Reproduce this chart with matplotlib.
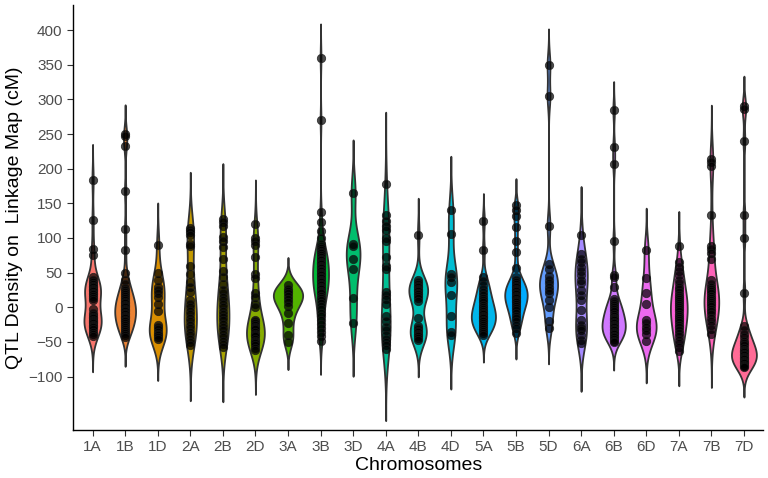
# QTL density violin plot per chromosome

import numpy as np
import matplotlib
matplotlib.use("Agg")
import matplotlib.pyplot as plt

plt.rcParams['font.family'] = ['Liberation Sans', 'DejaVu Sans']

chromosomes = ["1A", "1B", "1D", "2A", "2B", "2D", "3A", "3B", "3D", "4A", "4B",
               "4D", "5A", "5B", "5D", "6A", "6B", "6D", "7A", "7B", "7D"]

qtl_1A = [184, 126, 84, 75, 44, 40, 37, 34, 31, 29, 27, 25, 23, 21, 19, 17, 14, 11,
          -3, -8, -11, -14, -16, -18, -20, -21, -23, -25, -27, -29, -32, -35, -38, -42]
qtl_1B = [250, 247, 232, 168, 113, 82, 49, 40, 34, 28, 25, 22, 19, 16, 13, 10, 8, 6, 4, 2, 0,
          -2, -4, -6, -8, -10, -12, -14, -16, -18, -20, -22, -25, -28, -31, -34, -37, -40, -43]
qtl_1D = [90, 50, 40, 30, 25, 20, 15, 5, -5, -25, -28, -32, -35, -38, -40, -43, -45]
qtl_2A = [115, 112, 108, 105, 92, 88, 60, 48, 36, 29, 22, 10, 5, 0, -5, -10, -15, -20, -25,
          -30, -35, -40, -45, -50, -55]
qtl_2B = [128, 123, 118, 101, 96, 87, 70, 53, 44, 34, 25, 20, 15, 10, 5, 0, -5, -9, -14, -19,
          -24, -28, -33, -38, -43, -48, -53, -57]
qtl_2D = [120, 100, 96, 90, 72, 48, 43, 20, 15, 5, 0, -18, -20, -22, -25, -28, -30, -32, -35,
          -38, -40, -42, -45, -48, -50, -52, -55, -58, -62]
qtl_3A = [32, 27, 24, 20, 17, 12, 8, 2, -8, -22, -40, -50]
qtl_3B = [360, 270, 138, 123, 110, 100, 92, 88, 85, 82, 80, 78, 75, 72, 70, 68, 66, 64, 62, 60,
          58, 56, 54, 52, 50, 48, 46, 44, 42, 40, 38, 36, 34, 32, 30, 28, 26, 24, 22, 20, 17,
          14, 10, 6, 2, -3, -8, -13, -18, -24, -30, -36, -42, -48]
qtl_3D = [165, 92, 88, 70, 55, 13, -23]
qtl_4A = [178, 133, 125, 118, 112, 100, 95, 73, 60, 55, 22, 18, 12, 5, -12, -20, -28, -33, -40,
          -45, -50, -55, -60]
qtl_4B = [104, 39, 36, 33, 31, 29, 27, 25, 23, 21, 19, 16, 13, 9, -16, -27, -30, -32, -34,
          -36, -38, -40, -42, -44, -47]
qtl_4D = [140, 106, 48, 44, 37, 18, -12, -35, -40]
qtl_5A = [125, 82, 44, 38, 32, 27, 22, 18, 14, 10, 7, 4, 1, -2, -5, -8, -10, -12, -14, -16, -18,
          -20, -22, -25, -28, -31, -34, -37, -40]
qtl_5B = [148, 140, 132, 116, 96, 80, 56, 44, 40, 37, 34, 31, 29, 27, 25, 23, 21, 19, 17, 15,
          13, 11, 9, 7, 5, 2, -1, -4, -8, -12, -16, -20, -25, -30, -37]
qtl_5D = [350, 305, 118, 63, 55, 45, 40, 35, 30, 25, 20, 10, 0, -20, -30]
qtl_6A = [105, 77, 70, 65, 58, 52, 46, 40, 35, 25, 18, 10, -4, -18, -25, -30, -33, -40, -47, -52]
qtl_6B = [285, 231, 207, 96, 47, 44, 29, 12, 9, 6, 3, 0, -3, -6, -9, -12, -15, -17, -19, -21,
          -23, -25, -27, -29, -31, -33, -35, -37, -39, -41, -43, -45, -48, -50]
qtl_6D = [82, 42, 20, 5, -18, -23, -28, -33, -38, -48]
qtl_7A = [88, 65, 58, 52, 46, 40, 35, 30, 26, 22, 18, 15, 12, 9, 6, 3, 0, -3, -6, -9, -12, -15,
          -18, -21, -25, -29, -33, -37, -42, -47, -52, -57, -63]
qtl_7B = [214, 209, 204, 133, 89, 84, 78, 70, 40, 34, 30, 26, 23, 20, 17, 14, 11, 8, 5, 2, -2,
          -6, -10, -15, -20, -26, -32, -38]
qtl_7D = [290, 286, 240, 133, 100, 21, -27, -33, -38, -43, -48, -52, -55, -58, -61, -63, -65,
          -67, -69, -71, -73, -75, -77, -79, -81, -83, -85, -86]

groups = [qtl_1A, qtl_1B, qtl_1D, qtl_2A, qtl_2B, qtl_2D, qtl_3A, qtl_3B, qtl_3D,
          qtl_4A, qtl_4B, qtl_4D, qtl_5A, qtl_5B, qtl_5D, qtl_6A, qtl_6B, qtl_6D,
          qtl_7A, qtl_7B, qtl_7D]

yticks = [-100, -50, 0, 50, 100, 150, 200, 250, 300, 350, 400]


def hcl_hex(h, c=100, l=65):
    # polar LUV -> sRGB, same as R's hcl()
    xn, yn, zn = 95.047, 100.0, 108.883
    u = c * np.cos(np.radians(h))
    v = c * np.sin(np.radians(h))
    y = yn * ((l + 16) / 116) ** 3
    d = xn + 15 * yn + 3 * zn
    un, vn = 4 * xn / d, 9 * yn / d
    up = u / (13 * l) + un
    vp = v / (13 * l) + vn
    x = 9 * y * up / (4 * vp)
    z = -x / 3 - 5 * y + 3 * y / vp
    x, y, z = x / 100, y / 100, z / 100
    rgb = [3.240479 * x - 1.537150 * y - 0.498535 * z,
           -0.969256 * x + 1.875992 * y + 0.041556 * z,
           0.055648 * x - 0.204043 * y + 1.057311 * z]
    out = []
    for ch in rgb:
        ch = 12.92 * ch if ch <= 0.0031308 else 1.055 * ch ** (1 / 2.4) - 0.055
        out.append(min(max(ch, 0), 1))
    return tuple(out)


def bw_nrd0(x):
    x = np.asarray(x, float)
    sd = x.std(ddof=1)
    q1, q3 = np.percentile(x, [25, 75])
    lo = min(sd, (q3 - q1) / 1.34)
    if lo == 0:
        lo = sd
    return 0.9 * lo * len(x) ** -0.2


def density(x):
    # gaussian kde, untrimmed: runs 3 bandwidths past the data
    x = np.asarray(x, float)
    bw = bw_nrd0(x)
    grid = np.linspace(x.min() - 3 * bw, x.max() + 3 * bw, 512)
    dens = np.exp(-0.5 * ((grid[:, None] - x[None, :]) / bw) ** 2).sum(axis=1)
    dens /= len(x) * bw * np.sqrt(2 * np.pi)
    return grid, dens


n = len(chromosomes)
hues = np.linspace(15, 375, n + 1)[:n]
colors = [hcl_hex(h) for h in hues]

fig = plt.figure(figsize=(7.68, 4.78), dpi=100)
ax = fig.add_axes([0.0951, 0.1004, 0.899, 0.889])

dens_all = [density(g) for g in groups]
dmax = max(d.max() for _, d in dens_all)

for i, (grid, dens) in enumerate(dens_all):
    pos = i + 1
    w = dens / dmax * 0.45
    ax.fill_betweenx(grid, pos - w, pos + w, facecolor=colors[i],
                     edgecolor='#333333', linewidth=1.3, zorder=2)

for i, g in enumerate(groups):
    ax.scatter(np.full(len(g), i + 1), g, s=36, facecolor=(0, 0, 0, 0.7),
               edgecolors=(0.1, 0.1, 0.1, 0.8), linewidths=0.6, zorder=3)

ax.set_xlim(0.4, n + 0.6)
ax.set_ylim(-177, 436)
ax.set_xticks(range(1, n + 1))
ax.set_xticklabels(chromosomes)
ax.set_yticks(yticks)

for side in ['top', 'right']:
    ax.spines[side].set_visible(False)
for side in ['left', 'bottom']:
    ax.spines[side].set_color('black')
    ax.spines[side].set_linewidth(1.0)

ax.tick_params(axis='both', labelsize=11, colors='#333333', labelcolor='#4D4D4D',
               length=4, width=0.8)

ax.set_xlabel("Chromosomes", fontsize=14, labelpad=2)
ax.set_ylabel("QTL Density on  Linkage Map (cM)", fontsize=14, labelpad=4)

fig.savefig("out.png", dpi=100)
